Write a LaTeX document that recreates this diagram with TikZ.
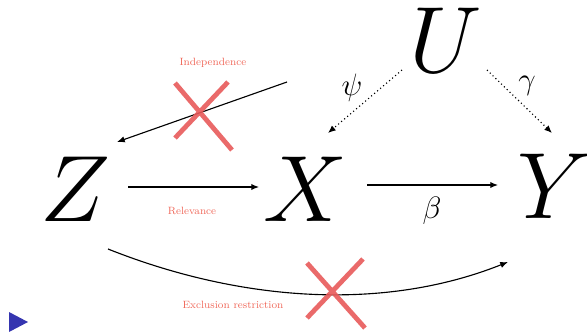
\RequirePackage{fix-cm}
\documentclass[tikz,border=0pt]{standalone}
\usepackage{xcolor}
\usepackage{tikz}
\usetikzlibrary{arrows.meta}
\definecolor{crossred}{HTML}{E85A5A}
\definecolor{labelred}{HTML}{F06A5C}
\definecolor{bulletblue}{HTML}{3535B0}

\begin{document}
\begin{tikzpicture}[x=0.025cm,y=-0.025cm,
    var/.style={inner sep=0pt,font=\fontsize{67}{67}\selectfont},
    coef/.style={inner sep=0pt,font=\fontsize{22}{22}\selectfont},
    note/.style={inner sep=0pt,text=labelred,font=\fontsize{7.5}{8}\selectfont},
    arr/.style={-{Latex[length=5.5pt,width=4.5pt]},line width=0.8pt},
    dotarr/.style={arr,dotted},
    crossmark/.style={crossred,line width=3.4pt,opacity=0.9}]
  \useasboundingbox (0,0) rectangle (587,331);
  % variables
  \node[var] (U) at (446,40) {$U$};
  \node[var] (Z) at (75,189) {$Z$};
  \node[var] (X) at (305,189) {$X$};
  \node[var] (Y) at (555,186) {$Y$};
  \coordinate (indep) at (287,82);
  % paths
  \draw[arr] (indep) -- ([shift={(42,-47)}]Z.center);
  \draw[arr] ([shift={(53,-2)}]Z.center) -- ([shift={(-46,-2)}]X.center);
  \draw[arr] ([shift={(62,-4)}]X.center) -- ([shift={(-57,-1)}]Y.center);
  \draw[dotarr] ([shift={(-44,30)}]U.center) -- ([shift={(23,-56)}]X.center);
  \draw[dotarr] ([shift={(41,30)}]U.center) -- ([shift={(-3,-53)}]Y.center);
  \draw[arr] ([shift={(33,60)}]Z.center) .. controls +(128,51) and +(-128,51) .. ([shift={(-47,76)}]Y.center);
  % labels
  \node[note] (independence) at (213,63) {Independence};
  \node[note] (relevance) at (192,211) {Relevance};
  \node[note] (exclusion) at (233,305) {Exclusion restriction};
  \node[coef] (psi) at (352,88) {$\psi$};
  \node[coef] (gamma) at (527,86) {$\gamma$};
  \node[coef] (beta) at (432,211) {$\beta$};
  % crossed out
  \draw[crossmark] (175,83) -- (232,150) (228,82) -- (175,138);
  \draw[crossmark] (307,263) -- (365,328) (363,259) -- (307,318);
  \fill[bulletblue] (9,312) -- (28,322) -- (9,332) -- cycle;
\end{tikzpicture}
\end{document}
